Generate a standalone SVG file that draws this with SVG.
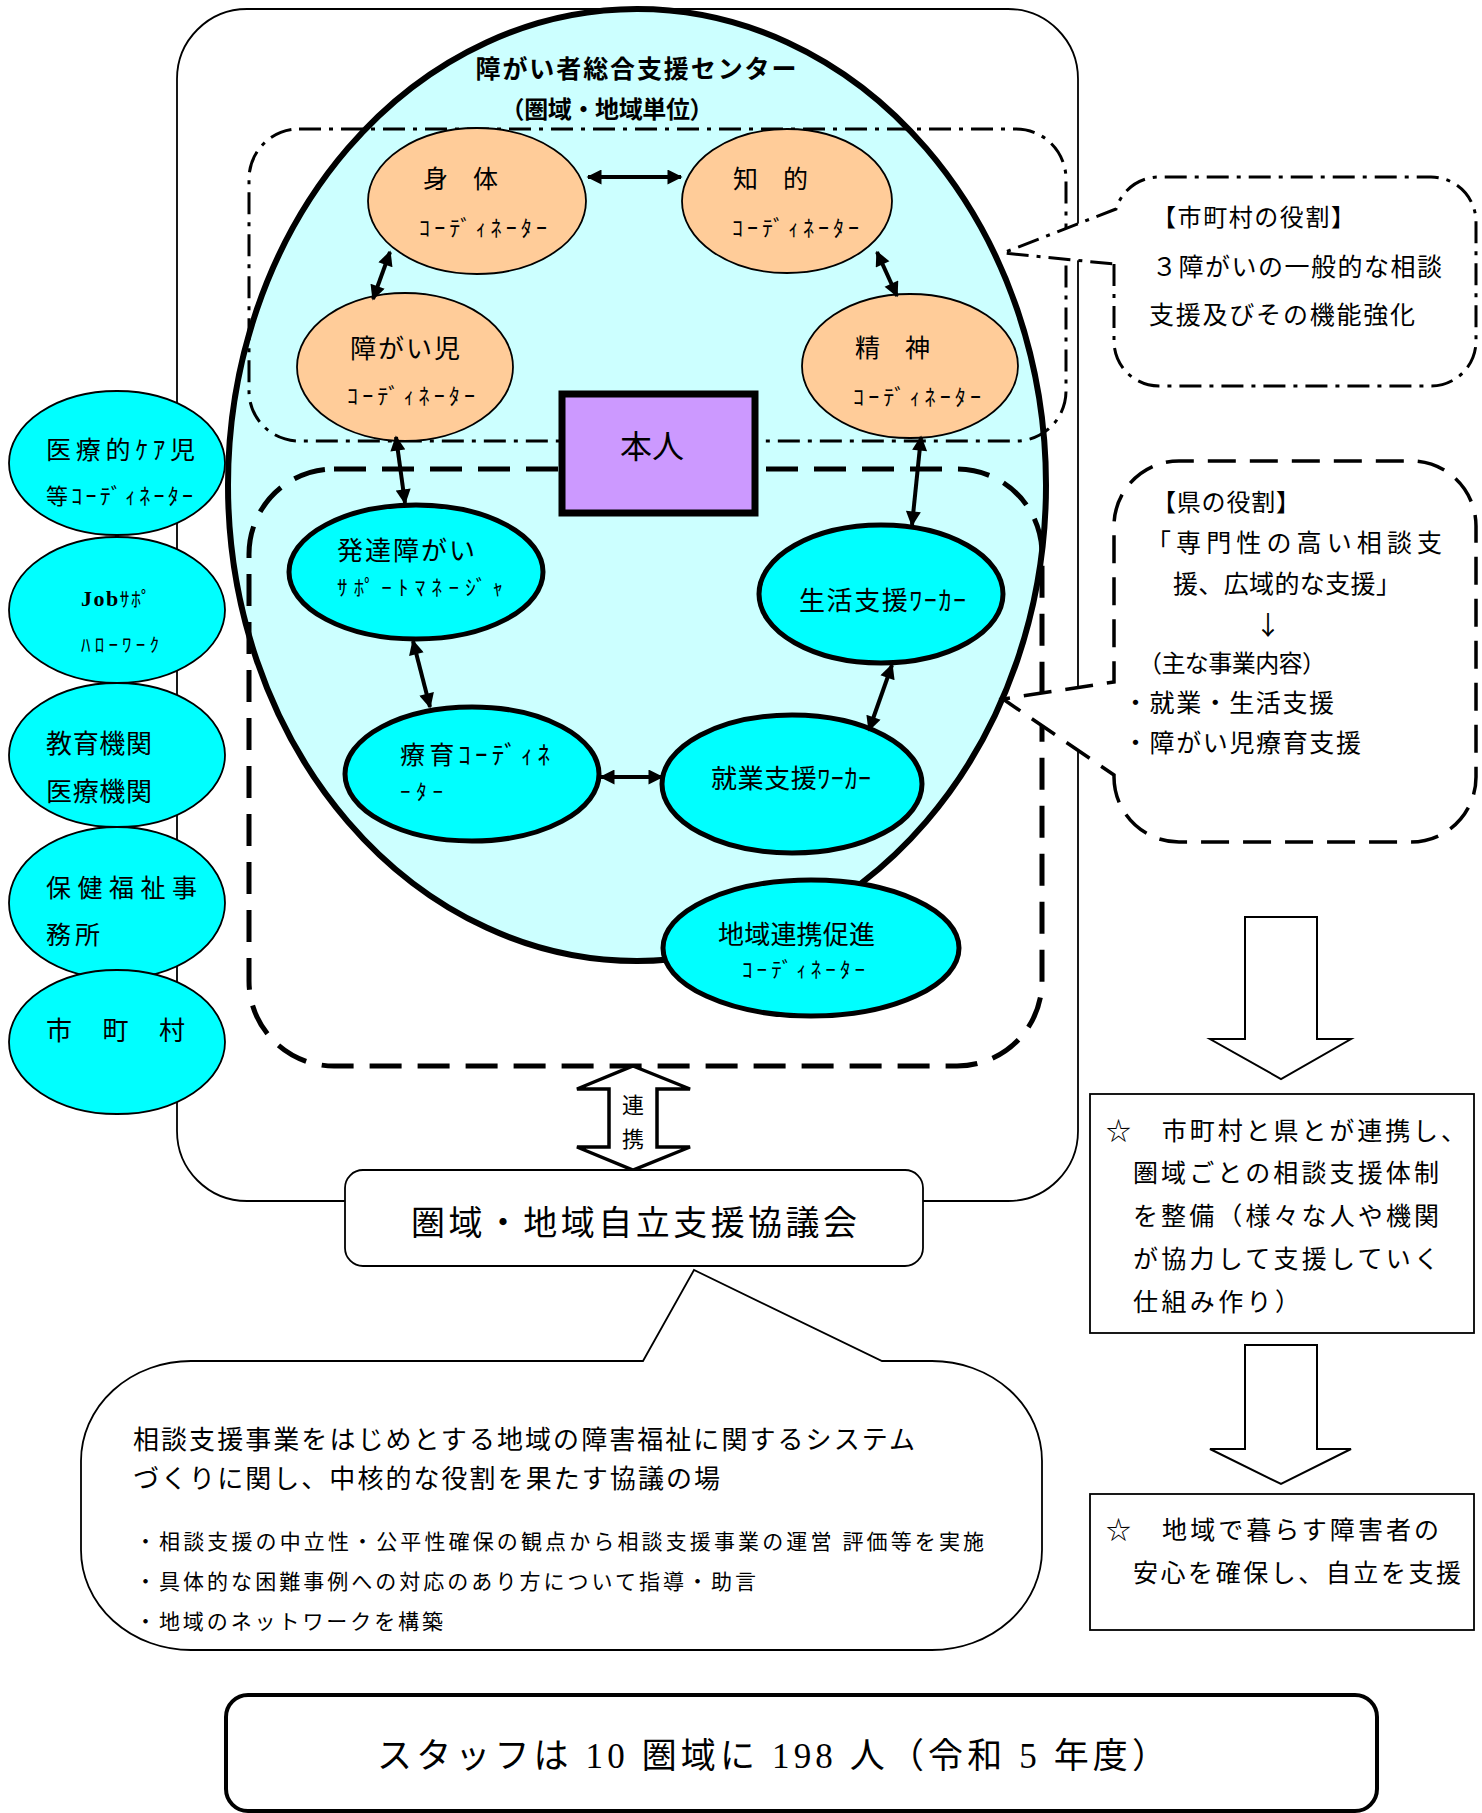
<svg xmlns="http://www.w3.org/2000/svg" width="1482" height="1813" viewBox="0 0 1482 1813">
<defs>
<style>
.t{font-family:"Noto Sans CJK JP",sans-serif;fill:#000;dominant-baseline:central}
.m{font-family:"Liberation Serif","Noto Sans CJK JP",serif;fill:#000;dominant-baseline:central}
.orange{fill:#FFCC99;stroke:#000;stroke-width:1.8}
.cyanB{fill:#00FFFF;stroke:#000;stroke-width:5}
.cyanL{fill:#00FFFF;stroke:#000;stroke-width:1.8}
.conn{stroke:#000;stroke-width:4;fill:none;marker-start:url(#ah);marker-end:url(#ah)}
.box{fill:#fff;stroke:#000;stroke-width:1.8}
</style>
<marker id="ah" viewBox="0 0 10 10" refX="9" refY="5" markerWidth="16" markerHeight="15" markerUnits="userSpaceOnUse" orient="auto-start-reverse">
<path d="M0,0 L10,5 L0,10 z" fill="#000"/>
</marker>
</defs>
<rect width="1482" height="1813" fill="#fff"/>

<g id="outer-frame">
<rect x="177" y="9" width="901" height="1192" rx="70" fill="none" stroke="#000" stroke-width="1.8"/>
</g>

<g id="center">
<ellipse cx="637" cy="485" rx="409" ry="476" fill="#CCFFFF" stroke="#000" stroke-width="6"/>
<text class="t" x="636" y="67" text-anchor="middle" font-size="25" font-weight="bold" textLength="321">障がい者総合支援センター</text>
<text class="t" x="607" y="107" text-anchor="middle" font-size="24" font-weight="bold" textLength="213">（圏域・地域単位）</text>
</g>

<g id="municipal-area">
<rect x="249" y="129" width="817" height="312" rx="50" fill="none" stroke="#000" stroke-width="3" stroke-dasharray="22 8 4 8"/>
</g>
<g id="prefecture-area">
<rect x="249" y="469" width="793" height="597" rx="85" fill="none" stroke="#000" stroke-width="5" stroke-dasharray="32 16"/>
</g>

<g id="node-shintai">
<ellipse class="orange" cx="477" cy="201" rx="109" ry="73"/>
<text class="t" x="423" y="177" font-size="25">身　体</text>
<text class="t" x="419" y="226" font-size="22" textLength="128">ｺｰﾃﾞｨﾈｰﾀｰ</text>
</g>
<g id="node-chiteki">
<ellipse class="orange" cx="787" cy="201" rx="105" ry="72"/>
<text class="t" x="733" y="177" font-size="25">知　的</text>
<text class="t" x="732" y="226" font-size="22" textLength="127">ｺｰﾃﾞｨﾈｰﾀｰ</text>
</g>
<g id="node-shogaiji">
<ellipse class="orange" cx="405" cy="367" rx="108" ry="74"/>
<text class="t" x="350" y="346" font-size="26" textLength="110">障がい児</text>
<text class="t" x="347" y="394" font-size="22" textLength="128">ｺｰﾃﾞｨﾈｰﾀｰ</text>
</g>
<g id="node-seishin">
<ellipse class="orange" cx="910" cy="366" rx="108" ry="72"/>
<text class="t" x="855" y="346" font-size="25">精　神</text>
<text class="t" x="853" y="395" font-size="22" textLength="128">ｺｰﾃﾞｨﾈｰﾀｰ</text>
</g>

<g id="node-honnin">
<rect x="562" y="394" width="193" height="119" fill="#CC99FF" stroke="#000" stroke-width="7"/>
<text class="t" x="652" y="444" text-anchor="middle" font-size="32">本人</text>
</g>

<g id="node-hattatsu">
<ellipse class="cyanB" cx="416" cy="572" rx="127" ry="67"/>
<text class="t" x="337" y="548" font-size="26" textLength="138">発達障がい</text>
<text class="t" x="337" y="586" font-size="21" textLength="166">ｻﾎﾟｰﾄﾏﾈｰｼﾞｬ</text>
</g>
<g id="node-seikatsu">
<ellipse class="cyanB" cx="881" cy="594" rx="122" ry="69"/>
<text class="t" x="799" y="598" font-size="26" textLength="167">生活支援ﾜｰｶｰ</text>
</g>
<g id="node-ryoiku">
<ellipse class="cyanB" cx="472" cy="774" rx="127" ry="67"/>
<text class="t" x="400" y="753" font-size="25" textLength="150">療育ｺｰﾃﾞｨﾈ</text>
<text class="t" x="400" y="790" font-size="21" textLength="43">ｰﾀｰ</text>
</g>
<g id="node-shugyo">
<ellipse class="cyanB" cx="792" cy="784" rx="130" ry="69"/>
<text class="t" x="711" y="776" font-size="26" textLength="160">就業支援ﾜｰｶｰ</text>
</g>
<g id="node-chiiki">
<ellipse class="cyanB" cx="811" cy="948" rx="148" ry="68"/>
<text class="t" x="718" y="932" font-size="26" textLength="157">地域連携促進</text>
<text class="t" x="742" y="968" font-size="21" textLength="123">ｺｰﾃﾞｨﾈｰﾀｰ</text>
</g>

<g id="connectors">
<line class="conn" x1="588" y1="177" x2="681" y2="177"/>
<line class="conn" x1="390" y1="252" x2="373" y2="299"/>
<line class="conn" x1="877" y1="252" x2="897" y2="296"/>
<line class="conn" x1="396" y1="437" x2="405" y2="503"/>
<line class="conn" x1="921" y1="437" x2="912" y2="525"/>
<line class="conn" x1="413" y1="641" x2="430" y2="707"/>
<line class="conn" x1="892" y1="665" x2="869" y2="730"/>
<line class="conn" x1="601" y1="777" x2="662" y2="777"/>
</g>

<g id="callout-municipal">
<path d="M1114,264 L1114,341 A45,45 0 0 0 1159,386 L1431,386 A45,45 0 0 0 1476,341 L1476,222 A45,45 0 0 0 1431,177 L1159,177 A45,45 0 0 0 1116,209 L1003,253 Z" fill="#fff" stroke="#000" stroke-width="3" stroke-dasharray="22 8 4 8"/>
<text class="m" x="1152" y="218" font-size="24" textLength="203">【市町村の役割】</text>
<text class="m" x="1152" y="267" font-size="25" textLength="290">３障がいの一般的な相談</text>
<text class="m" x="1149" y="315" font-size="25" textLength="266">支援及びその機能強化</text>
</g>

<g id="callout-prefecture">
<path d="M1114,775 L1114,777 A65,65 0 0 0 1179,842 L1411,842 A65,65 0 0 0 1476,777 L1476,526 A65,65 0 0 0 1411,461 L1179,461 A65,65 0 0 0 1114,526 L1114,682 L1003,699 Z" fill="#fff" stroke="#000" stroke-width="3.5" stroke-dasharray="28 14"/>
<text class="m" x="1152" y="503" font-size="24" textLength="148">【県の役割】</text>
<text class="m" x="1146" y="543" font-size="25" textLength="296">「専門性の高い相談支</text>
<text class="m" x="1173" y="584" font-size="25" textLength="228">援、広域的な支援」</text>
<text class="t" x="1268" y="623" font-size="26" text-anchor="middle">↓</text>
<text class="m" x="1138" y="664" font-size="24" textLength="188">（主な事業内容）</text>
<text class="m" x="1123" y="703" font-size="25" textLength="211">・就業・生活支援</text>
<text class="m" x="1123" y="743" font-size="25" textLength="238">・障がい児療育支援</text>
</g>

<g id="arrow-down-1">
<polygon points="1245,917 1317,917 1317,1039 1351,1039 1281,1079 1210,1039 1245,1039" fill="#fff" stroke="#000" stroke-width="2"/>
</g>
<g id="node-result-1">
<rect class="box" x="1090" y="1094" width="384" height="239"/>
<text class="m" x="1106" y="1131" font-size="25" textLength="360">☆　市町村と県とが連携し、</text>
<text class="m" x="1133" y="1173" font-size="25" textLength="306">圏域ごとの相談支援体制</text>
<text class="m" x="1133" y="1216" font-size="25" textLength="306">を整備（様々な人や機関</text>
<text class="m" x="1133" y="1259" font-size="25" textLength="306">が協力して支援していく</text>
<text class="m" x="1133" y="1302" font-size="25" textLength="167">仕組み作り）</text>
</g>
<g id="arrow-down-2">
<polygon points="1245,1345 1317,1345 1317,1449 1351,1449 1281,1484 1210,1449 1245,1449" fill="#fff" stroke="#000" stroke-width="2"/>
</g>
<g id="node-result-2">
<rect class="box" x="1090" y="1494" width="384" height="136"/>
<text class="m" x="1106" y="1530" font-size="25" textLength="333">☆　地域で暮らす障害者の</text>
<text class="m" x="1133" y="1573" font-size="25" textLength="328">安心を確保し、自立を支援</text>
</g>

<g id="link-arrow">
<polygon points="633,1066 690,1089 657,1089 657,1147 690,1147 633,1170 577,1147 609,1147 609,1089 577,1089" fill="#fff" stroke="#000" stroke-width="3.5" stroke-linejoin="miter"/>
<text class="t" x="633" y="1103" text-anchor="middle" font-size="22">連</text>
<text class="t" x="633" y="1137" text-anchor="middle" font-size="22">携</text>
</g>

<g id="node-council">
<rect class="box" x="345" y="1170" width="578" height="96" rx="18"/>
<text class="t" x="634" y="1220" text-anchor="middle" font-size="34" textLength="446">圏域・地域自立支援協議会</text>
</g>

<g id="callout-council">
<path d="M191,1361 L643,1361 L694,1270 L882,1361 L932,1361 A110,100 0 0 1 1042,1461 L1042,1550 A110,100 0 0 1 932,1650 L191,1650 A110,100 0 0 1 81,1550 L81,1461 A110,100 0 0 1 191,1361 Z" fill="#fff" stroke="#000" stroke-width="1.8"/>
<text class="t" x="133" y="1437" font-size="26" textLength="782">相談支援事業をはじめとする地域の障害福祉に関するシステム</text>
<text class="t" x="133" y="1476" font-size="26" textLength="587">づくりに関し、中核的な役割を果たす協議の場</text>
<text class="t" x="135" y="1540" font-size="21" textLength="849">・相談支援の中立性・公平性確保の観点から相談支援事業の運営 評価等を実施</text>
<text class="t" x="135" y="1580" font-size="21" textLength="621">・具体的な困難事例への対応のあり方について指導・助言</text>
<text class="t" x="135" y="1620" font-size="21" textLength="308">・地域のネットワークを構築</text>
</g>

<g id="node-staff">
<rect x="226" y="1695" width="1151" height="116" rx="22" fill="#fff" stroke="#000" stroke-width="4"/>
<text class="m" x="377" y="1756" font-size="35" textLength="790">スタッフは 10 圏域に 198 人（令和 5 年度）</text>
</g>

<g id="node-iryoteki">
<ellipse class="cyanL" cx="117" cy="463" rx="108" ry="72"/>
<text class="t" x="46" y="448" font-size="25" textLength="149">医療的ｹｱ児</text>
<text class="t" x="46" y="494" font-size="22" textLength="147">等ｺｰﾃﾞｨﾈｰﾀｰ</text>
</g>
<g id="node-job">
<ellipse class="cyanL" cx="117" cy="610" rx="108" ry="73"/>
<text class="t" x="81" y="598" font-size="20" textLength="70"><tspan font-family="Liberation Serif" font-weight="bold" font-size="22">Job</tspan><tspan>ｻﾎﾟ</tspan></text>
<text class="t" x="81" y="643" font-size="19" textLength="78">ﾊﾛｰﾜｰｸ</text>
</g>
<g id="node-kyoiku">
<ellipse class="cyanL" cx="117" cy="755" rx="108" ry="72"/>
<text class="t" x="46" y="741" font-size="26" textLength="106">教育機関</text>
<text class="t" x="46" y="789" font-size="26" textLength="106">医療機関</text>
</g>
<g id="node-hoken">
<ellipse class="cyanL" cx="117" cy="903" rx="108" ry="76"/>
<text class="t" x="46" y="886" font-size="25" textLength="151">保健福祉事</text>
<text class="t" x="46" y="933" font-size="25" textLength="54">務所</text>
</g>
<g id="node-shichoson">
<ellipse class="cyanL" cx="117" cy="1042" rx="108" ry="72"/>
<text class="t" x="46" y="1028" font-size="26" textLength="139">市　町　村</text>
</g>
</svg>
